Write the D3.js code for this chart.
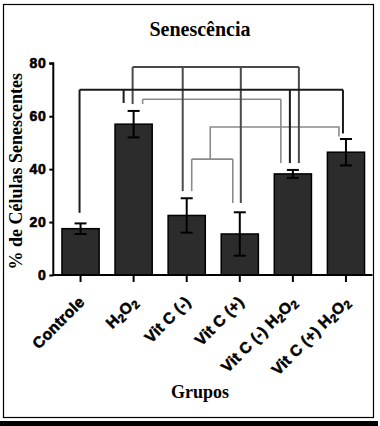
<!DOCTYPE html>
<html><head><meta charset="utf-8">
<script src="https://cdn.jsdelivr.net/npm/d3@7"></script>
<style>body{margin:0;background:#fff}svg{display:block}</style>
</head><body><svg id="c" width="380" height="426"></svg>
<script>
// ---- data ----
const categories = ["Controle", "H2O2", "Vit C (-)", "Vit C (+)", "Vit C (-) H2O2", "Vit C (+) H2O2"];
const means = [17.5, 57.0, 22.5, 15.5, 38.2, 46.4];
const errors = [2.0, 5.0, 6.5, 8.2, 1.5, 5.0];
const yTicks = [0, 20, 40, 60, 80];
const title = "Senescência";
const yLabel = "% de Células Senescentes";
const xLabel = "Grupos";
// significance brackets: level and the leg endpoints (value where each leg stops)
const bracketA = {level: 70.0, legs: [["Controle", 23.5], ["H2O2", 65.0], ["Vit C (-) H2O2", 42.3], ["Vit C (+) H2O2", 53.5]]};
const bracketB = {level: 78.6, legs: [["H2O2", 64.6], ["Vit C (-)", 31.7], ["Vit C (+)", 27.2], ["Vit C (-) H2O2", 42.3]]};
const bracketC = {level: 66.4, legs: [["H2O2", 64.6], ["Vit C (-) H2O2", 42.3]]};
const bracketD = {level: 43.8, legs: [["Vit C (-)", 31.7], ["Vit C (+)", 27.2]], upper: 55.9, target: ["Vit C (+) H2O2", 52.3]};

// ---- styles (pixel offsets of legs so lines sit side by side) ----
const legOffsets = {
  A: [-1, -10, -3, -3],
  B: [-1, -4, 1, 6],
  C: [9, -12],
  D: [5, -7, -7]
};

const svg = d3.select("#c");
const x = d3.scaleBand().domain(categories).range([54, 372.5]).paddingInner(0.3).paddingOuter(0.15);
const y = d3.scaleLinear().domain([0, 80]).range([275, 63.3]);
const cx = c => x(c) + x.bandwidth() / 2;

// frame
svg.append("rect").attr("x", 3.5).attr("y", 4.5).attr("width", 370).attr("height", 413)
  .attr("fill", "none").attr("stroke", "#000").attr("stroke-width", 1.2);
svg.append("rect").attr("x", 0).attr("y", 421).attr("width", 378).attr("height", 5).attr("fill", "#000");

// title
svg.append("text").attr("x", 200).attr("y", 36).attr("text-anchor", "middle")
  .attr("font-family", "Liberation Serif, Times New Roman, serif").attr("font-weight", "bold")
  .attr("font-size", 20).text(title);

// bars
svg.append("g").selectAll("rect").data(categories).join("rect")
  .attr("x", c => x(c)).attr("width", x.bandwidth())
  .attr("y", (c, i) => y(means[i])).attr("height", (c, i) => y(0) - y(means[i]))
  .attr("fill", "#2c2c2c").attr("stroke", "#000").attr("stroke-width", 1.5);

// error bars
const eg = svg.append("g").attr("stroke", "#000").attr("stroke-width", 2);
categories.forEach((c, i) => {
  const xc = cx(c);
  eg.append("line").attr("x1", xc).attr("x2", xc).attr("y1", y(means[i] - errors[i])).attr("y2", y(means[i] + errors[i]));
  [means[i] - errors[i], means[i] + errors[i]].forEach(v => {
    eg.append("line").attr("x1", xc - 6).attr("x2", xc + 6).attr("y1", y(v)).attr("y2", y(v));
  });
});

// axes
const yAxis = d3.axisLeft(y).tickValues(yTicks).tickSize(4).tickPadding(3);
const gy = svg.append("g").attr("transform", "translate(53.3,0)").call(yAxis);
gy.select(".domain").attr("stroke-width", 2).attr("d", `M-4,${y(80)}H0V${y(0)}`);
gy.selectAll(".tick line").attr("stroke-width", 2);
gy.selectAll("text").attr("font-family", "Liberation Sans, Arial, sans-serif").attr("font-weight", "bold")
  .attr("font-size", 14).attr("letter-spacing", 0.6).attr("fill", "#000")
  .attr("stroke", "#000").attr("stroke-width", 0.6);

const xAxis = d3.axisBottom(x).tickSize(7).tickFormat("");
const gx = svg.append("g").attr("transform", `translate(0,${y(0)})`).call(xAxis);
gx.select(".domain").attr("stroke-width", 2).attr("d", "M52.3,0H372.5");
gx.selectAll(".tick line").attr("stroke-width", 2);

// x labels with subscripts
const labG = svg.append("g");
categories.forEach(c => {
  const t = labG.append("text")
    .attr("transform", `translate(${cx(c) + 5},${y(0) + 28}) rotate(-45)`)
    .attr("text-anchor", "end")
    .attr("font-family", "Liberation Sans, Arial, sans-serif").attr("font-weight", "bold")
    .attr("font-size", 15.5).attr("letter-spacing", 0.3)
    .attr("stroke", "#000").attr("stroke-width", 0.55);
  const parts = c.split(/(2)/);
  parts.forEach(p => {
    if (p === "2") t.append("tspan").attr("font-size", 11.5).attr("baseline-shift", "-25%").text("2");
    else if (p) t.append("tspan").text(p);
  });
});

// axis titles
svg.append("text").attr("transform", `translate(22,${(y(0) + y(80)) / 2 + 2}) rotate(-90)`)
  .attr("text-anchor", "middle").attr("font-family", "Liberation Serif, Times New Roman, serif")
  .attr("font-weight", "bold").attr("font-size", 18).text(yLabel);
svg.append("text").attr("x", 200).attr("y", 398).attr("text-anchor", "middle")
  .attr("font-family", "Liberation Serif, Times New Roman, serif").attr("font-weight", "bold")
  .attr("font-size", 18).text(xLabel);

// brackets
function drawBracket(b, offs, color, w) {
  const g = svg.append("g").attr("stroke", color).attr("stroke-width", w).attr("fill", "none");
  const xs = b.legs.map((l, i) => cx(l[0]) + offs[i]);
  g.append("path").attr("d", `M${d3.min(xs)},${y(b.level)}H${d3.max(xs)}`);
  b.legs.forEach((l, i) => {
    g.append("path").attr("d", `M${xs[i]},${y(b.level)}V${y(l[1])}`);
  });
  return xs;
}
drawBracket(bracketC, legOffsets.C, "#8a8a8a", 1.6);
const xsD = drawBracket(bracketD, legOffsets.D, "#8a8a8a", 1.6);
{
  const g = svg.append("g").attr("stroke", "#8a8a8a").attr("stroke-width", 1.6).attr("fill", "none");
  const mid = (xsD[0] + xsD[1]) / 2 - 2;
  const tx = cx(bracketD.target[0]) + legOffsets.D[2];
  g.append("path").attr("d", `M${mid},${y(bracketD.level)}V${y(bracketD.upper)}H${tx}V${y(bracketD.target[1])}`);
}
drawBracket(bracketB, legOffsets.B, "#4a4a4a", 2);
drawBracket(bracketA, legOffsets.A, "#1a1a1a", 2);
</script></body></html>
